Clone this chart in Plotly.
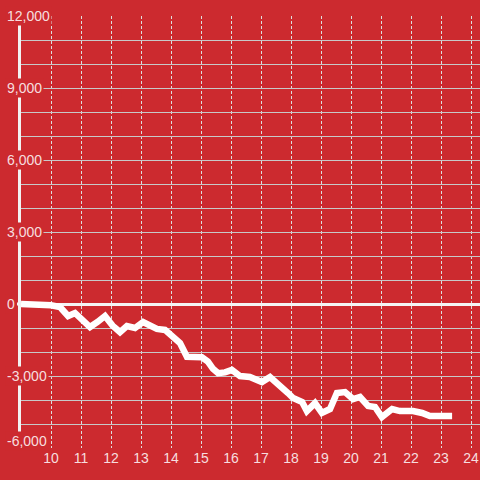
import plotly.graph_objects as go

# data
x_vals = [9.0, 9.5, 10.0, 10.3, 10.57, 10.8, 11.05, 11.3, 11.55, 11.8, 12.05, 12.3, 12.53, 12.8, 13.07,
          13.3, 13.53, 13.8, 14.05, 14.3, 14.53, 14.8, 15.03, 15.23, 15.4, 15.57, 15.8, 16.03, 16.3,
          16.63, 17.03, 17.3, 17.63, 17.9, 18.07, 18.37, 18.53, 18.8, 19.03, 19.3, 19.53, 19.8, 20.07,
          20.3, 20.57, 20.8, 21.03, 21.37, 21.63, 22.07, 22.37, 22.63, 22.97, 23.37]
y_vals = [0, -10, -50, -125, -500, -375, -700, -960, -750, -500, -900, -1170, -920, -1000, -750,
          -900, -1040, -1080, -1350, -1630, -2200, -2210, -2220, -2400, -2700, -2880, -2850, -2750, -3000,
          -3040, -3250, -3040, -3460, -3710, -3920, -4080, -4460, -4130, -4540, -4375, -3710, -3670, -3960,
          -3875, -4250, -4290, -4710, -4375, -4460, -4460, -4540, -4670, -4670, -4670]

y_tick_vals = [12000, 9000, 6000, 3000, 0, -3000, -6000]
y_tick_text = ["12,000", "9,000", "6,000", "3,000", "0", "-3,000", "-6,000"]
x_tick_vals = list(range(10, 25))

BG = "#cc2a2f"
LABEL = "rgba(255,255,255,0.86)"
FONT = "'Liberation Sans', Arial, sans-serif"

fig = go.Figure()
fig.add_trace(go.Scatter(x=x_vals, y=y_vals, mode="lines",
                         line=dict(color="white", width=6.5), hoverinfo="skip"))

plot_w = 459
y_min = min(y_tick_vals)
annotations = []
for v, t in zip(y_tick_vals, y_tick_text):
    annotations.append(dict(x=-16 / plot_w, xref="paper", y=v, yref="y", text=t,
                            showarrow=False, xanchor="left", yanchor="middle",
                            yshift=(7 if v == y_min else 0),
                            bgcolor=BG, borderpad=1,
                            font=dict(family=FONT, size=14, color=LABEL)))

fig.update_layout(
    width=480, height=480,
    margin=dict(l=21, r=0, t=16, b=32, autoexpand=False),
    paper_bgcolor=BG, plot_bgcolor=BG,
    showlegend=False,
    annotations=annotations,
    shapes=[dict(type="line", xref="paper", yref="y", x0=-4 / plot_w, x1=0, y0=0, y1=0,
                 line=dict(color="#f4f4f4", width=3), layer="below")],
    xaxis=dict(range=[9, 24.3], tickvals=x_tick_vals, showgrid=True, automargin=False,
               gridcolor="#dddddd", gridwidth=1, griddash="3px,2px",
               zeroline=False, showline=False, ticks="",
               tickfont=dict(family=FONT, size=14, color=LABEL)),
    yaxis=dict(range=[-6000, 12000], dtick=1000, showticklabels=False, automargin=False,
               showgrid=True, gridcolor="#c8c8c8", gridwidth=1,
               zeroline=True, zerolinecolor="#f4f4f4", zerolinewidth=3,
               showline=True, linecolor="#f2f2f2", linewidth=3, ticks=""),
)

fig.write_html("out.html", config={"displayModeBar": False},
               post_script="document.body.style.margin='0';document.body.style.background='%s';" % BG)
